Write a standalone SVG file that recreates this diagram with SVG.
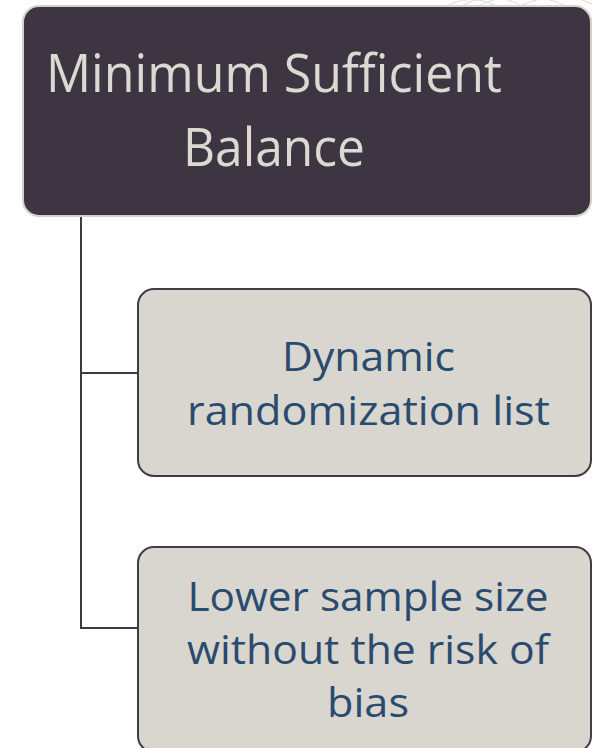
<svg xmlns="http://www.w3.org/2000/svg" width="592" height="748" viewBox="0 0 592 748">
<style>
.bg-arc{fill:none;stroke:#d8d8d8;stroke-width:1}
.root{fill:#3d3642;stroke:#d6d1ca;stroke-width:2}
.child{fill:#d9d5cf;stroke:#403c46;stroke-width:2}
.conn{fill:none;stroke:#3d3a42;stroke-width:2}
.t-root{font-family:"Open Sans","Noto Sans",sans-serif;fill:#dcd8d2;text-anchor:middle}
.t-child{font-family:"Open Sans","Noto Sans",sans-serif;fill:#2a4a6e;text-anchor:middle}
</style>
<g id="background">
<path class="bg-arc" d="M440 10 Q470 -10 500 8"/>
<path class="bg-arc" d="M455 10 Q490 -14 525 8"/>
<path class="bg-arc" d="M470 10 Q520 -18 570 8"/>
<path class="bg-arc" d="M520 6 Q560 -12 592 4"/>
</g>
<g id="connectors">
<path class="conn" d="M81 216 V628 H138"/>
<path class="conn" d="M81 373 H138"/>
</g>
<g id="node-root">
<rect class="root" x="23" y="6" width="568" height="210" rx="16"/>
<text class="t-root" font-size="53" x="274" y="92" textLength="456" lengthAdjust="spacingAndGlyphs">Minimum Sufficient</text>
<text class="t-root" font-size="53" x="274" y="166" textLength="182" lengthAdjust="spacingAndGlyphs">Balance</text>
</g>
<g id="node-dynamic">
<rect class="child" x="138" y="289" width="453" height="187" rx="16"/>
<text class="t-child" font-size="41" x="368.5" y="371" textLength="173" lengthAdjust="spacingAndGlyphs">Dynamic</text>
<text class="t-child" font-size="41" x="368.5" y="425" textLength="363" lengthAdjust="spacingAndGlyphs">randomization list</text>
</g>
<g id="node-lower">
<rect class="child" x="138" y="547" width="453" height="205" rx="16"/>
<text class="t-child" font-size="41" x="368" y="611" textLength="361" lengthAdjust="spacingAndGlyphs">Lower sample size</text>
<text class="t-child" font-size="41" x="368" y="664" textLength="362" lengthAdjust="spacingAndGlyphs">without the risk of</text>
<text class="t-child" font-size="41" x="368" y="717" textLength="82" lengthAdjust="spacingAndGlyphs">bias</text>
</g>
</svg>
